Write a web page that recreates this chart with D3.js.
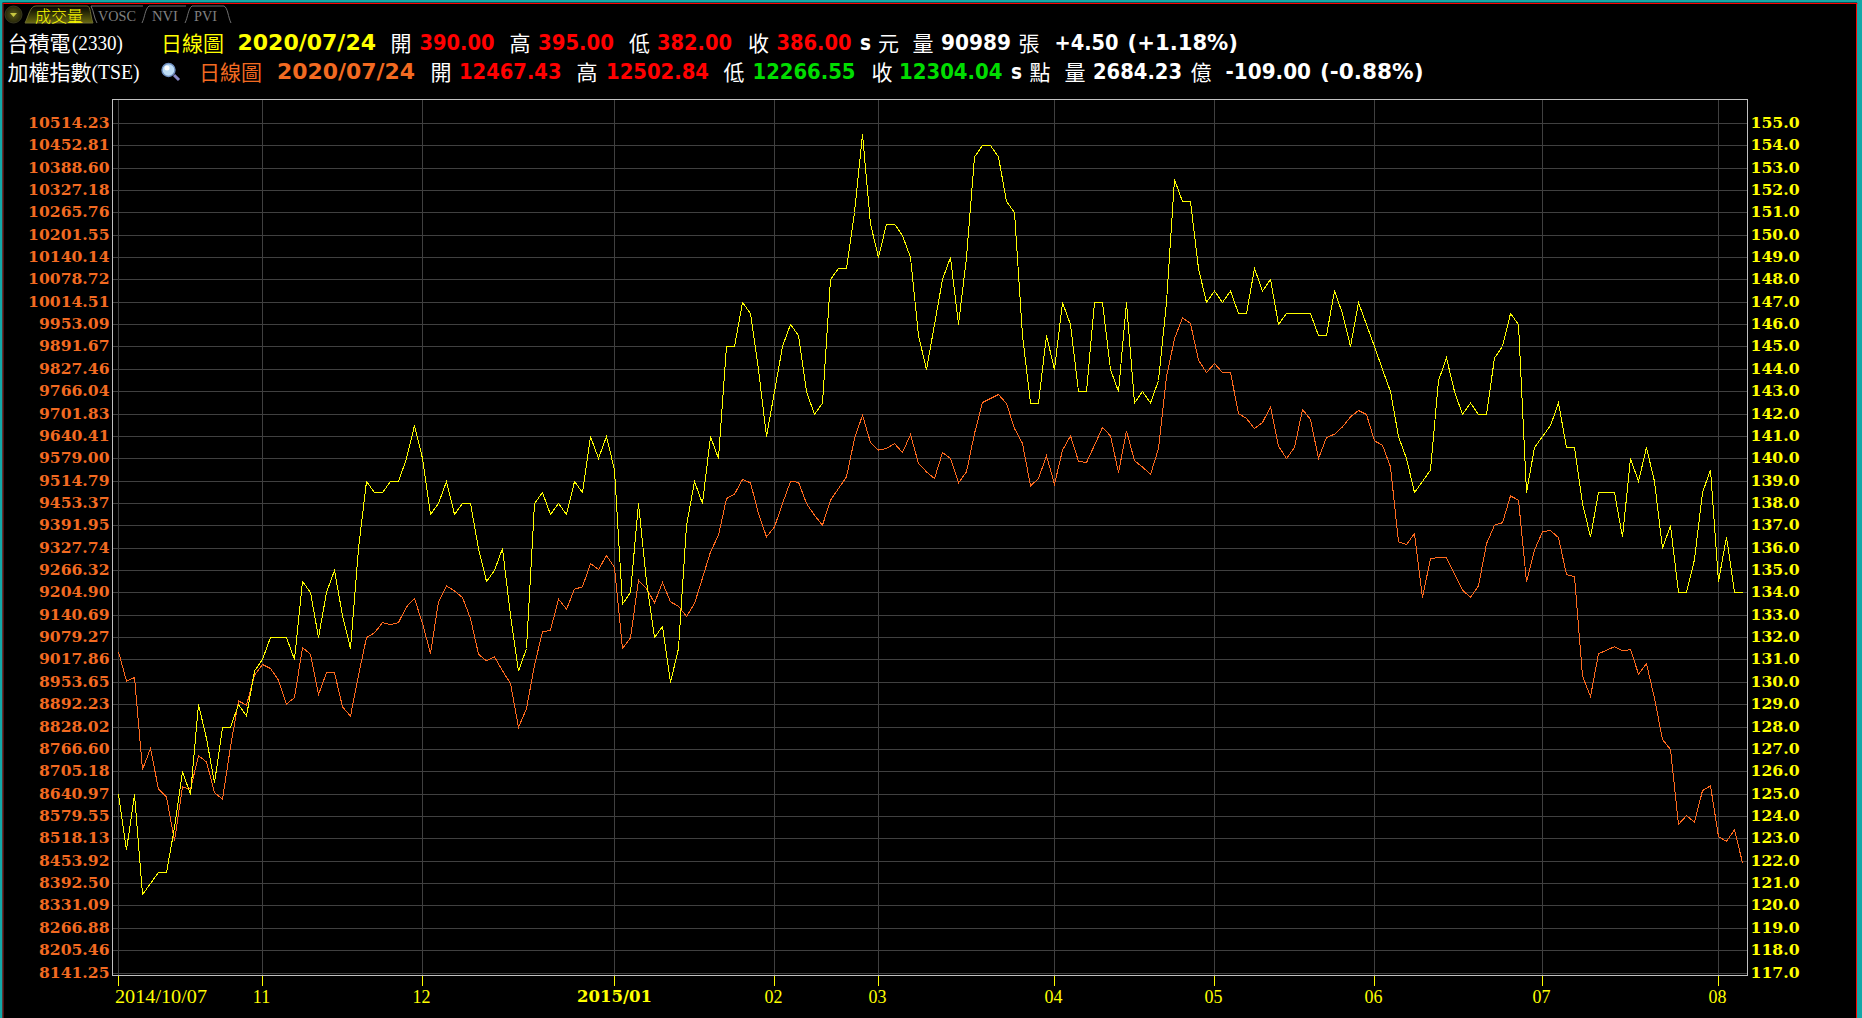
<!DOCTYPE html>
<html><head><meta charset="utf-8">
<script src="https://cdn.jsdelivr.net/npm/d3@7"></script>
<style>html,body{margin:0;padding:0;background:#000;overflow:hidden}svg{display:block}</style>
</head><body><svg id="c" width="1862" height="1018"></svg>
<script>
const leftTicks=[10514.23,10452.81,10388.60,10327.18,10265.76,10201.55,10140.14,10078.72,10014.51,9953.09,9891.67,9827.46,9766.04,9701.83,9640.41,9579.00,9514.79,9453.37,9391.95,9327.74,9266.32,9204.90,9140.69,9079.27,9017.86,8953.65,8892.23,8828.02,8766.60,8705.18,8640.97,8579.55,8518.13,8453.92,8392.50,8331.09,8266.88,8205.46,8141.25];
const rightTicks=[155,154,153,152,151,150,149,148,147,146,145,144,143,142,141,140,139,138,137,136,135,134,133,132,131,130,129,128,127,126,125,124,123,122,121,120,119,118,117];
const xTickIndex=[0,18,38,62,82,95,117,137,157,178,200];
const xTickLabels=["2014/10/07","11","12","2015/01","02","03","04","05","06","07","08"];
const stockClose=[125,122.5,125,120.5,121,121.5,121.5,123.5,126,125,
129,127.5,125.5,128,128,129,128.5,130.5,131,132,
132,132,131,134.5,134,132,134,135,133,131.5,
136,139,138.5,138.5,139,139,140,141.5,140,137.5,
138,139,137.5,138,138,136,134.5,135,136,133,
130.5,131.5,138,138.5,137.5,138,137.5,139,138.5,141,
140,141,139.5,133.5,134,138,134.5,132,132.5,130,
131.5,137,139,138,141,140,145,145,147,146.5,
144,141,143,145,146,145.5,143,142,142.5,148,
148.5,148.5,151,154.5,150.5,149,150.5,150.5,150,149,
145.5,144,146,148,149,146,149,153.5,154,154,
153.5,151.5,151,145.5,142.5,142.5,145.5,144,147,146,
143,143,147,147,144,143,147,142.5,143,142.5,
143.5,147,152.5,151.5,151.5,148.5,147,147.5,147,147.5,
146.5,146.5,148.5,147.5,148,146,146.5,146.5,146.5,146.5,
145.5,145.5,147.5,146.5,145,147,146,145,144,143,
141,140,138.5,139,139.5,143.5,144.5,143,142,142.5,
142,142,144.5,145,146.5,146,138.5,140.5,141,141.5,
142.5,140.5,140.5,138,136.5,138.5,138.5,138.5,136.5,140,
139,140.5,139,136,137,134,134,135.5,138.5,139.5,
134.5,136.5,134,134];
const indexClose=[9039.2,8957.3,8967.5,8710.7,8769.3,8655.8,8634.4,8511.6,8662.3,8655.8,
8748.9,8732,8646.5,8627.9,8774,8902.4,8890.3,8974,9003.8,8992.7,
8960,8893.1,8911.7,9051.3,9032.7,8920,8980.6,8980.6,8885.7,8859.6,
8974,9079.2,9092.2,9121,9115.5,9121,9164.8,9188,9118.3,9034.6,
9178.8,9223.5,9209.5,9190.9,9132.3,9032.7,9014,9025.3,8986.2,8950.8,
8828,8881,9002,9095,9099.7,9186.2,9158.3,9214.2,9220.7,9285.8,
9269,9308.1,9274.6,9048.5,9078.2,9239.2,9216,9176,9232.7,9178.7,
9166.6,9137.8,9174.1,9245.7,9318.3,9364.9,9467.2,9479.4,9520.3,9511,
9425.4,9360.2,9388.2,9453.3,9514.7,9512.8,9453.3,9420.7,9392.8,9462.6,
9495.2,9527.8,9634.7,9699.9,9623.6,9602.2,9606.8,9620.8,9595.7,9645.9,
9565,9541.7,9523,9595.7,9578.9,9511,9541.7,9648.7,9735.2,9746.4,
9757.6,9732.5,9662.7,9620.8,9502.6,9523,9586.3,9507.3,9602.2,9642.2,
9571.5,9567.7,9616.1,9665.4,9642.2,9539.8,9656.2,9572.4,9555.6,9534.2,
9606.8,9806.9,9913.9,9971.6,9955.8,9853.4,9819,9844.1,9819,9819,
9704.5,9690.6,9662.6,9679.4,9723.2,9613.3,9578.9,9609.6,9715.7,9687.8,
9578.9,9637.5,9646.8,9667.3,9695.2,9712.9,9701.7,9628.2,9616.1,9555.6,
9346.3,9338.8,9369.5,9191,9299.5,9302.3,9302.3,9256.2,9211.3,9191.4,
9223.3,9340.9,9392.8,9399.8,9474.5,9462.6,9235.2,9323,9374.8,9377.8,
9357.9,9255.2,9249.2,8972,8914.2,9033.8,9043.8,9053.8,9041.8,9045.8,
8977,9006,8909.2,8794.6,8766.6,8557.3,8582.2,8563.3,8652,8665,
8523.4,8510.4,8542.3,8450.6];

// text pieces of the two header rows
const header1=[["台積電","cjk","#fff",7.5],["(2330)","ser","#fff",72,51],["日線圖","cjk","#ff0",161],["2020/07/24","b","#ff0",237.5,138.5],["開","cjk","#fff",390.5],["390.00","b","#f00",419.5,75],["高","cjk","#fff",509.5],["395.00","b","#f00",538,76],["低","cjk","#fff",629],["382.00","b","#f00",657,75],["收","cjk","#fff",748],["386.00","b","#f00",776.5,75],["s","b","#fff",860,11],["元","cjk","#fff",878],["量","cjk","#fff",912.5],["90989","b","#fff",941,70],["張","cjk","#fff",1018.5],["+4.50","b","#fff",1054.5,64],["(+1.18%)","b","#fff",1127.5,110.5]];
const header2=[["加權指數","cjk","#fff",7.5],["(TSE)","ser","#fff",91.5,48],["日線圖","cjk","#f26a21",199],["2020/07/24","b","#f26a21",277,138],["開","cjk","#fff",430.5],["12467.43","b","#f00",459,102.5],["高","cjk","#fff",576.5],["12502.84","b","#f00",606,103],["低","cjk","#fff",723.5],["12266.55","b","#0d0",752.5,103],["收","cjk","#fff",871.5],["12304.04","b","#0d0",899,103.5],["s","b","#fff",1011,11],["點","cjk","#fff",1029.5],["量","cjk","#fff",1064.5],["2684.23","b","#fff",1093,89],["億","cjk","#fff",1190.5],["-109.00","b","#fff",1225.5,85.5],["(-0.88%)","b","#fff",1320,103.5]];
const tabs=[["VOSC",98,38],["NVI",152,26],["PVI",194,23]];
const tabOutlines=["M91 6C94 12 94 18 97 23M91 6H143","M142 23C145 17 145 9 149 6H186","M185 23C188 17 188 9 192 6H224C228 8 228 17 231 23"];

const svg=d3.select("#c");
const ORANGE="#f26a21",GRID="#404040",FRAME="#c0c0c0";
const plot={l:112.5,r:1747.5,t:99.5,b:975.5};

// window frame
svg.append("rect").attr("width",1862).attr("height",1018).attr("fill","#000");
const frame=[[0,0,1862,2.5,"#13a8a8"],[0,0,2.5,1018,"#13a8a8"],[1857,0,5,1018,"#13a8a8"],[2.5,3,1855,1,"#f00"],[2.5,3,1,1015,"#a02020"],[1856,3,1,1015,"#f00"]];
svg.selectAll("rect.f").data(frame).join("rect").attr("class","f")
 .attr("x",d=>d[0]).attr("y",d=>d[1]).attr("width",d=>d[2]).attr("height",d=>d[3]).attr("fill",d=>d[4]);

// tab strip
const defs=svg.append("defs");
const g1=defs.append("linearGradient").attr("id","tabG").attr("x1",0).attr("x2",0).attr("y1",0).attr("y2",1);
g1.append("stop").attr("offset",0).attr("stop-color","#000");
g1.append("stop").attr("offset",1).attr("stop-color","#6a6a10");
const g2=defs.append("radialGradient").attr("id","btnG");
g2.append("stop").attr("offset",0).attr("stop-color","#5a5a18");
g2.append("stop").attr("offset",1).attr("stop-color","#25250a");
svg.append("circle").attr("cx",13.5).attr("cy",14.5).attr("r",8.5).attr("fill","url(#btnG)").attr("stroke","#3a3a20");
svg.append("path").attr("d","M10 13h7l-3.5 4z").attr("fill","#c8c840");
svg.selectAll("path.tab").data(tabOutlines).join("path").attr("class","tab").attr("d",d=>d).attr("fill","none").attr("stroke","#707070");
svg.append("path").attr("d","M25 23C29 15 30 6 36 6H87C91 6 90 15 93 23Z").attr("fill","url(#tabG)").attr("stroke","#6a6a30");
svg.append("text").text("成交量").attr("x",35).attr("y",22).attr("fill","#ff0").attr("font-family","'Noto Sans CJK TC'").attr("font-size",16).attr("font-weight",300);
svg.selectAll("text.tab").data(tabs).join("text").attr("class","tab").text(d=>d[0]).attr("x",d=>d[1]).attr("y",21)
 .attr("fill","#808080").attr("font-family","'Liberation Serif'").attr("font-size",15).attr("textLength",d=>d[2]).attr("lengthAdjust","spacingAndGlyphs");

// header rows
function header(rows,base){
  const fam={cjk:"'Noto Sans CJK TC'",ser:"'Liberation Serif'",b:"'DejaVu Sans'"};
  svg.append("g").selectAll("text").data(rows).join("text").text(d=>d[0])
   .attr("x",d=>d[3]).attr("y",d=>d[1]==="cjk"?base+1:base)
   .attr("fill",d=>d[2]).attr("font-family",d=>fam[d[1]])
   .attr("font-weight",d=>d[1]==="b"?700:400)
   .attr("font-size",d=>d[1]==="ser"?20:21)
   .each(function(d){if(d[4])d3.select(this).attr("textLength",d[4]).attr("lengthAdjust","spacingAndGlyphs");});
}
header(header1,50);
header(header2,79);

// magnifier icon
const mag=svg.append("g");
mag.append("line").attr("x1",174).attr("y1",75).attr("x2",179).attr("y2",80).attr("stroke","#8a8ac8").attr("stroke-width",3);
mag.append("circle").attr("cx",168.5).attr("cy",70).attr("r",6.5).attr("fill","#bcdcf5").attr("stroke","#6f8fc0").attr("stroke-width",1.4);
mag.append("circle").attr("cx",167).attr("cy",68).attr("r",2.5).attr("fill","#fff");

// scales
const x=d3.scaleLinear().domain([0,203]).range([118.5,1742.5]);
const yLeft=d3.scaleLinear().domain([8141.25,10514.23]).range([973.5,123.5]);
const yRight=d3.scaleLinear().domain(rightTicks).range(leftTicks.map(v=>yLeft(v)));

// grid
const grid=svg.append("g").attr("stroke",GRID).attr("stroke-width",1).attr("shape-rendering","crispEdges");
grid.selectAll("line.h").data(leftTicks).join("line").attr("class","h")
 .attr("x1",plot.l).attr("x2",plot.r).attr("y1",d=>Math.floor(yLeft(d))+.5).attr("y2",d=>Math.floor(yLeft(d))+.5);
grid.selectAll("line.v").data(xTickIndex).join("line").attr("class","v")
 .attr("x1",d=>x(d)).attr("x2",d=>x(d)).attr("y1",plot.t).attr("y2",plot.b);

// axes
const axisLeft=d3.axisLeft(yLeft).tickValues(leftTicks).tickFormat(d3.format(".2f")).tickSize(0).tickPadding(3).offset(0);
const gl=svg.append("g").attr("transform",`translate(${plot.l},0)`).call(axisLeft);
gl.select(".domain").remove();
gl.selectAll("text").attr("fill",ORANGE).attr("font-family","'DejaVu Serif'").attr("font-weight",700).attr("font-size",15.6).attr("dy","0.31em");

const axisRight=d3.axisRight(yRight).tickValues(rightTicks).tickFormat(d3.format(".1f")).tickSize(0).tickPadding(3).offset(0);
const gr=svg.append("g").attr("transform",`translate(${plot.r},0)`).call(axisRight);
gr.select(".domain").remove();
gr.selectAll("text").attr("fill","#ff0").attr("font-family","'DejaVu Serif'").attr("font-weight",700).attr("font-size",15.7).attr("dy","0.31em");

const axisX=d3.axisBottom(x).tickValues(xTickIndex).tickFormat((d,i)=>xTickLabels[i]).tickSize(10).tickPadding(6).offset(0);
const gx=svg.append("g").attr("transform",`translate(0,${plot.b})`).call(axisX);
gx.select(".domain").remove();
gx.selectAll("line").attr("stroke","#ff0").attr("shape-rendering","crispEdges");
gx.selectAll("text").attr("fill","#ff0").attr("font-family","'Liberation Serif'").attr("font-size",18).attr("y",15).attr("dx",-1).attr("dy","0.71em")
 .each(function(d,i){
   const s=d3.select(this);
   if(xTickLabels[i]==="2014/10/07"){s.attr("text-anchor","start").attr("x",-3.5).attr("dx",0).attr("textLength",92).attr("lengthAdjust","spacingAndGlyphs");}
   if(xTickLabels[i]==="2015/01"){s.attr("font-family","'DejaVu Serif'").attr("font-weight",700).attr("font-size",16).attr("dx",0).attr("textLength",75).attr("lengthAdjust","spacingAndGlyphs");}
 });

// plot border
svg.append("rect").attr("x",plot.l).attr("y",plot.t).attr("width",plot.r-plot.l).attr("height",plot.b-plot.t)
 .attr("fill","none").attr("stroke",FRAME).attr("shape-rendering","crispEdges");

// series
const lineIdx=d3.line().x((d,i)=>x(i)).y(d=>yLeft(d));
const lineStk=d3.line().x((d,i)=>x(i)).y(d=>yRight(d));
svg.append("path").datum(indexClose).attr("d",lineIdx).attr("fill","none").attr("stroke","#ff6a1e").attr("stroke-width",1).attr("shape-rendering","crispEdges");
svg.append("path").datum(stockClose).attr("d",lineStk).attr("fill","none").attr("stroke","#ff0").attr("stroke-width",1).attr("shape-rendering","crispEdges");
</script></body></html>
